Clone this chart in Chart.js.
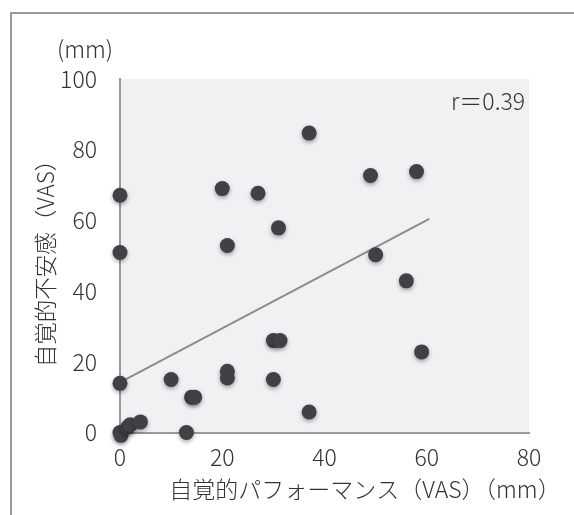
<!DOCTYPE html>
<html>
<head>
<meta charset="utf-8">
<script src="https://cdn.jsdelivr.net/npm/chart.js@4.4.1/dist/chart.umd.min.js"></script>
<style>
  html, body { margin: 0; padding: 0; background: #fff; }
</style>
</head>
<body>
<canvas id="chart" width="574" height="515"></canvas>
<script>
// data
const perfX = [0, 0, 0, 0, 0.2, 1.5, 2, 4, 10, 13, 14, 14.6, 20, 21, 21, 21, 27, 30, 31.3, 30, 31, 37, 37, 49, 50, 56, 58, 59];
const anxY = [67.1, 50.9, 13.9, 0, -0.8, 1.5, 2.2, 3, 15, 0, 10, 10, 69, 52.9, 17.3, 15.4, 67.7, 26, 26, 15, 57.9, 84.7, 5.8, 72.7, 50.3, 42.9, 73.8, 22.8];
const trendX = [0, 60.5];
const trendY = [14.2, 60.4];
const xTicks = [0, 20, 40, 60, 80];
const yTicks = [0, 20, 40, 60, 80, 100];

const xTitle = "自覚的パフォーマンス（VAS）（mm）";
const yTitle = "自覚的不安感（VAS）";
const unitLabel = "(mm)";
const rLabel = "r＝0.39";

const FONT = "'Noto Sans CJK JP', 'Noto Sans', sans-serif";
const TEXT = "#333333";

const points = perfX.map((x, i) => ({ x: x, y: anxY[i] }));
const trend = trendX.map((x, i) => ({ x: x, y: trendY[i] }));

// gray plot area + outer frame
const backdrop = {
  id: "backdrop",
  beforeDraw(chart) {
    const { ctx, chartArea } = chart;
    ctx.save();
    ctx.fillStyle = "#f0f1f3";
    ctx.fillRect(chartArea.left, chartArea.top, chartArea.right - chartArea.left, chartArea.bottom - chartArea.top);
    ctx.strokeStyle = "#7a7a7a";
    ctx.lineWidth = 1.5;
    ctx.strokeRect(11, 13, 700, 700);
    ctx.restore();
  },
  beforeDatasetDraw(chart, args) {
    if (args.index !== 0) return;
    const ctx = chart.ctx;
    ctx.save();
    ctx.shadowColor = "rgba(0,0,0,0.35)";
    ctx.shadowBlur = 4;
    ctx.shadowOffsetY = 2;
  },
  afterDatasetDraw(chart, args) {
    if (args.index !== 0) return;
    chart.ctx.restore();
  },
  afterDraw(chart) {
    const ctx = chart.ctx;
    ctx.save();
    ctx.fillStyle = TEXT;
    ctx.textBaseline = "middle";

    ctx.font = "300 23px " + FONT;
    ctx.textAlign = "center";
    ctx.fillText(unitLabel, 85, 49);
    ctx.fillText(xTitle, 365, 489);

    ctx.textAlign = "right";
    ctx.fillText(rLabel, 525, 101);

    ctx.font = "300 22.5px " + FONT;
    ctx.translate(45, 258);
    ctx.rotate(-Math.PI / 2);
    ctx.textAlign = "center";
    ctx.fillText(yTitle, 0, 0);
    ctx.restore();
  }
};

new Chart(document.getElementById("chart"), {
  type: "scatter",
  data: {
    datasets: [
      {
        label: "data",
        data: points,
        backgroundColor: "#414145",
        borderColor: "#414145",
        borderWidth: 0,
        pointRadius: 7.5,
        clip: false,
        order: 1
      },
      {
        label: "trend",
        type: "line",
        data: trend,
        borderColor: "#8c8c8c",
        borderWidth: 2,
        pointRadius: 0,
        fill: false,
        clip: false,
        order: 2
      }
    ]
  },
  plugins: [backdrop],
  options: {
    responsive: false,
    animation: false,
    layout: { padding: { left: 0, top: 79, right: 45, bottom: 0 } },
    plugins: {
      legend: { display: false },
      tooltip: { enabled: false }
    },
    scales: {
      x: {
        type: "linear",
        min: 0,
        max: 80,
        afterFit: s => { s.height = 82.5; },
        afterBuildTicks: s => { s.ticks = xTicks.map(v => ({ value: v })); },
        grid: { display: false },
        border: { display: true, color: "#9a9a9a", width: 2 },
        ticks: { color: TEXT, padding: 3, font: { family: FONT, size: 23, weight: "300" } }
      },
      y: {
        type: "linear",
        min: 0,
        max: 100,
        afterFit: s => { s.width = 120; },
        afterBuildTicks: s => { s.ticks = yTicks.map(v => ({ value: v })); },
        grid: { display: false },
        border: { display: true, color: "#9a9a9a", width: 2 },
        ticks: { color: TEXT, padding: 15, font: { family: FONT, size: 23, weight: "300" } }
      }
    }
  }
});
</script>
</body>
</html>
